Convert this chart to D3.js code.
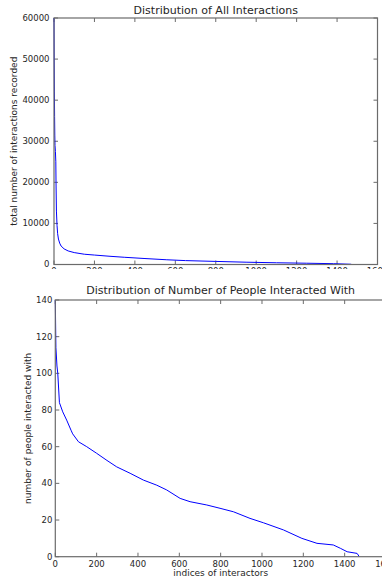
<!DOCTYPE html>
<html><head><meta charset="utf-8">
<script src="https://cdn.jsdelivr.net/npm/d3@7"></script>
<style>html,body{margin:0;padding:0;background:#fff;overflow:hidden}svg{display:block}text{font-family:"DejaVu Sans",sans-serif;fill:#262626}</style>
</head><body>
<script>
// Top chart: total interactions per interactor (sorted)
const topIdx = [0,1,2,3,4,5,7,9,10,12,15,18,22,28,35,50,70,100,150,200,277,350,450,558,650,800,950,1100,1250,1383,1470];
const topVal = [60000,50000,42000,36000,31500,29000,27500,25000,20000,13000,9500,7500,6200,5200,4500,3800,3300,2900,2500,2300,2000,1750,1450,1150,950,750,560,420,310,200,60];
const topXTicks = [0,200,400,600,800,1000,1200,1400,1600];
const topYTicks = [0,10000,20000,30000,40000,50000,60000];

// Bottom chart: number of people interacted with (sorted)
const botIdx = [0,3,8,12,20,36,55,76,84,112,152,200,250,297,362,426,491,539,604,652,733,797,862,942,1007,1104,1193,1266,1345,1379,1412,1460,1471];
const botVal = [140,114,104,100,84,79,74.5,69,67,62.7,60,56.4,52.5,49,45.5,41.8,39,36.4,31.8,30,28.2,26.4,24.5,20.9,18.5,14.6,10,7.3,6.4,4.6,2.7,1.8,0];
const botXTicks = [0,200,400,600,800,1000,1200,1400,1600];
const botYTicks = [0,20,40,60,80,100,120,140];

const W = 382, H = 580;
const svg = d3.select("body").append("svg").attr("width", W).attr("height", H);
const spine = "#6b6b6b", tl = 4, fs = 8.5;

function panel(o) {
  const x = d3.scaleLinear().domain([0,1600]).range([o.l, o.r]);
  const y = d3.scaleLinear().domain(o.yd).range([o.b, o.t]);
  const g = svg.append("g");
  o.xt.forEach(v => {
    g.append("line").attr("x1", x(v)).attr("x2", x(v)).attr("y1", o.b).attr("y2", o.b - tl).attr("stroke", spine);
    g.append("line").attr("x1", x(v)).attr("x2", x(v)).attr("y1", o.t).attr("y2", o.t + tl).attr("stroke", spine);
  });
  o.yt.forEach(v => {
    g.append("line").attr("x1", o.l).attr("x2", o.l + tl).attr("y1", y(v)).attr("y2", y(v)).attr("stroke", spine);
    g.append("line").attr("x1", o.r).attr("x2", o.r - tl).attr("y1", y(v)).attr("y2", y(v)).attr("stroke", spine);
    g.append("text").attr("x", o.l - o.gap).attr("y", y(v)).attr("dy", "0.35em").attr("text-anchor", "end").attr("font-size", fs).text(v);
  });
  const line = d3.line().x(d => x(d[0])).y(d => y(d[1]));
  g.append("path").datum(o.xs.map((v, i) => [v, o.ys[i]])).attr("d", line)
    .attr("fill", "none").attr("stroke", "#0000ff").attr("stroke-width", 1);
  g.append("rect").attr("x", o.l).attr("y", o.t).attr("width", o.r - o.l).attr("height", o.b - o.t)
    .attr("fill", "none").attr("stroke", spine).attr("stroke-width", 1.2);
  const lg = g.append("g");
  if (o.clipY) {
    const id = "clip" + Math.round(o.t);
    svg.append("clipPath").attr("id", id).append("rect").attr("x", 0).attr("y", 0).attr("width", W).attr("height", o.clipY);
    lg.attr("clip-path", `url(#${id})`);
  }
  o.xt.forEach(v => {
    lg.append("text").attr("x", x(v)).attr("y", o.b + 3).attr("dy", "0.8em").attr("text-anchor", "middle").attr("font-size", fs).text(v);
  });
  svg.append("text").attr("x", (o.l + o.r) / 2).attr("y", o.titleY).attr("text-anchor", "middle").attr("font-size", 11).text(o.title);
  svg.append("text").attr("transform", `translate(${o.ylx},${(o.t + o.b) / 2}) rotate(-90)`).attr("text-anchor", "middle").attr("font-size", 9).text(o.ylab);
  if (o.xlab) svg.append("text").attr("x", (o.l + o.r) / 2).attr("y", o.b + 19).attr("text-anchor", "middle").attr("font-size", 9).text(o.xlab);
}

panel({l: 54, r: 377.5, t: 18, b: 264.5, yd: [0,60000], xt: topXTicks, yt: topYTicks, xs: topIdx, ys: topVal, gap: 4.5, titleY: 14,
  title: "Distribution of All Interactions", ylab: "total number of interactions recorded", ylx: 17, clipY: 269});
panel({l: 55.3, r: 386, t: 300, b: 556.7, yd: [0,140], xt: botXTicks, yt: botYTicks, xs: botIdx, ys: botVal, gap: 3, titleY: 294,
  title: "Distribution of Number of People Interacted With", ylab: "number of people interacted with", ylx: 31,
  xlab: "indices of interactors"});
</script>
</body></html>
